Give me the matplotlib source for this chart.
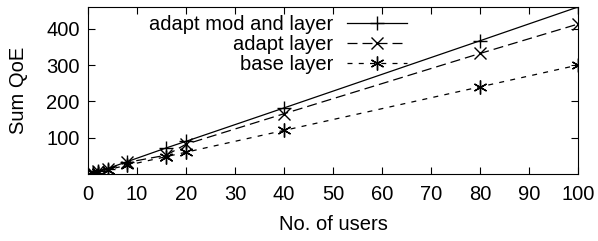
import matplotlib
matplotlib.use('Agg')
import matplotlib.pyplot as plt

plt.rcParams['font.family'] = ['Liberation Sans', 'DejaVu Sans']

users = [1, 2, 4, 8, 16, 20, 40, 80, 100]
mod_layer = [4, 8, 15, 34, 72, 90, 182, 367, 460]
adapt_layer = [4, 8, 14, 32, 52, 82, 166, 332, 413]
base_layer = [3, 6, 12, 24, 48, 60, 120, 240, 300]

fig = plt.figure(figsize=(5.98, 2.41), dpi=100)
ax = fig.add_axes([88 / 598, 1 - 174 / 241, 490 / 598, 167 / 241])

ax.plot(users, mod_layer, color='black', lw=0.9, marker='+', ms=10, mew=1,
        label='adapt mod and layer')
ax.plot(users, adapt_layer, color='black', lw=0.9, ls=(0, (8, 4)), marker='x', ms=9, mew=1,
        label='adapt layer')
ax.plot(users, base_layer, color='black', lw=0.9, ls=(0, (4, 5)), marker=(6, 2, 0), ms=10, mew=1,
        label='base layer')

ax.set_xlim(0, 100)
ax.set_ylim(0, 460)
ax.set_xticks(range(0, 101, 10))
ax.set_yticks([100, 200, 300, 400])
ax.tick_params(direction='in', top=True, right=True, labelsize=14.5, length=5)
ax.tick_params(axis='x', pad=8)
ax.tick_params(axis='y', pad=6)
ax.set_xlabel('No. of users', fontsize=14.5)
ax.set_ylabel('Sum QoE', fontsize=14.5)
ax.xaxis.set_label_coords(0.5, -0.243)
ax.yaxis.set_label_coords(-0.122, 0.5)

leg = ax.legend(loc='upper right', bbox_to_anchor=(0.652, 0.952), frameon=False, markerfirst=False,
                fontsize=14.5, handlelength=3.0, labelspacing=0.05, handletextpad=0.7,
                borderpad=0, borderaxespad=0)
for t in leg.get_texts():
    t.set_ha('right')
leg._legend_box.align = 'right'

fig.savefig('out.png', dpi=100)
